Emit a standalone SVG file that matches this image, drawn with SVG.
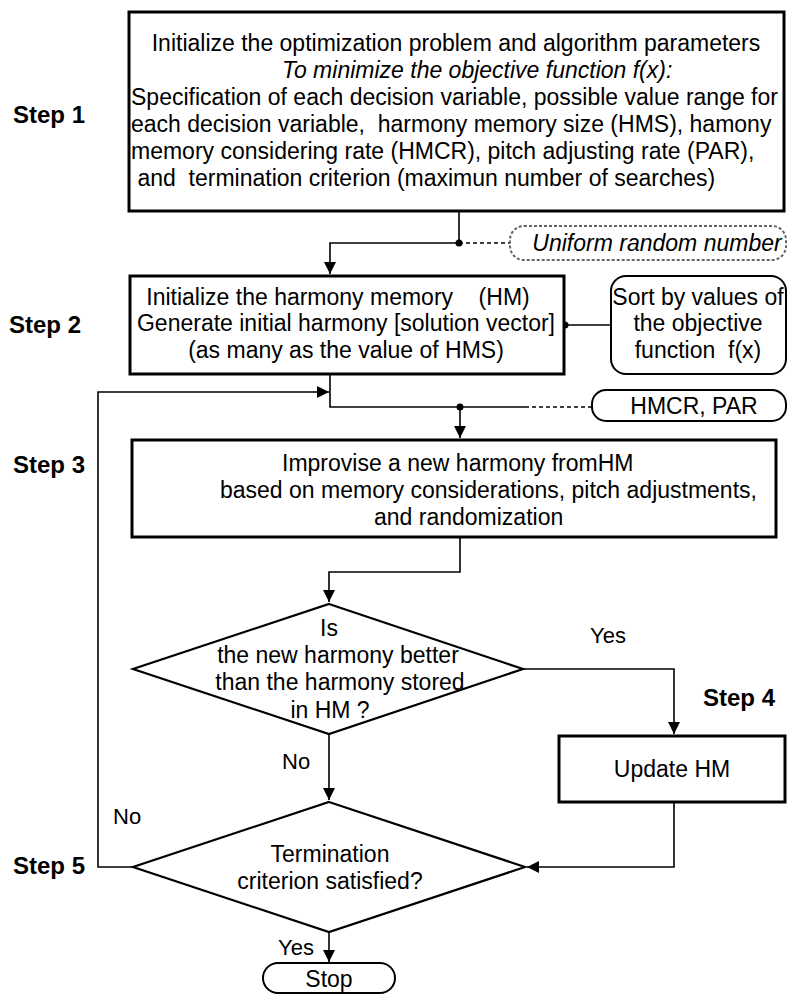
<svg xmlns="http://www.w3.org/2000/svg" width="788" height="997" viewBox="0 0 788 997">
<style>
.t{font-family:"Liberation Sans",Arial,sans-serif;font-size:23px;fill:#000}
.c{text-anchor:middle}
.i{font-style:italic}
.s{font-weight:bold;font-size:24px}
.l{font-size:22px}
.box{fill:#fff;stroke:#000;stroke-width:3}
.rnd{fill:#fff;stroke:#000;stroke-width:2}
.dsh{fill:#fff;stroke:#666;stroke-width:2;stroke-dasharray:3 2}
.dia{fill:#fff;stroke:#000;stroke-width:2.2}
.ln{fill:none;stroke:#000;stroke-width:1.6}
.dl{fill:none;stroke:#000;stroke-width:1.6;stroke-dasharray:4 3}
</style>
<defs>
<marker id="ar" markerUnits="userSpaceOnUse" markerWidth="12" markerHeight="12" viewBox="0 0 12 12" refX="12" refY="6" orient="auto">
<path d="M0,0 L12,6 L0,12 Z" fill="#000"/>
</marker>
</defs>

<g id="labels">
<text class="t s" x="13" y="123">Step 1</text>
<text class="t s" x="9" y="333">Step 2</text>
<text class="t s" x="13" y="473">Step 3</text>
<text class="t s" x="703" y="706">Step 4</text>
<text class="t s" x="13" y="874">Step 5</text>
</g>

<g id="connectors">
<path class="ln" d="M459,211 V243 H330 V274" marker-end="url(#ar)"/>
<path class="dl" d="M459,243 H510"/>
<circle cx="459" cy="243" r="3.5"/>
<path class="ln" d="M565,325 H611"/>
<circle cx="565" cy="325" r="3.5"/>
<path class="ln" d="M330,374 V407 H460"/>
<path class="ln" d="M460,407 V438" marker-end="url(#ar)"/>
<path class="ln" d="M460,407 H525"/>
<path class="dl" d="M525,407 H592"/>
<circle cx="460" cy="407" r="3.5"/>
<path class="ln" d="M133,867 H98 V392 H329" marker-end="url(#ar)"/>
<path class="ln" d="M460,537 V572 H329 V602" marker-end="url(#ar)"/>
<path class="ln" d="M523,669 H674 V734" marker-end="url(#ar)"/>
<path class="ln" d="M674,802 V867 H527" marker-end="url(#ar)"/>
<path class="ln" d="M329,734 V800" marker-end="url(#ar)"/>
<path class="ln" d="M329,932 V962" marker-end="url(#ar)"/>
<text class="t l" x="590" y="643">Yes</text>
<text class="t l" x="282" y="769">No</text>
<text class="t l" x="113" y="824">No</text>
<text class="t l" x="278" y="955">Yes</text>
</g>

<g id="step1">
<rect class="box" x="129" y="12" width="655" height="199"/>
<text class="t c" x="456" y="51">Initialize the optimization problem and algorithm parameters</text>
<text class="t i" x="282" y="78">To minimize the objective function f(x):</text>
<text class="t" x="131" y="105">Specification of each decision variable, possible value range for</text>
<text class="t" x="131" y="132" xml:space="preserve">each decision variable,  harmony memory size (HMS), hamony</text>
<text class="t" x="131" y="159">memory considering rate (HMCR), pitch adjusting rate (PAR),</text>
<text class="t" x="131" y="186" xml:space="preserve"> and  termination criterion (maximun number of searches)</text>
</g>

<g id="uniform">
<rect class="dsh" x="510" y="226" width="276" height="34" rx="14"/>
<text class="t c i" x="657" y="251">Uniform random number</text>
</g>

<g id="step2">
<rect class="box" x="130" y="276" width="434" height="98"/>
<text class="t c" x="338" y="305" xml:space="preserve">Initialize the harmony memory    (HM)</text>
<text class="t c" x="346" y="331">Generate initial harmony [solution vector]</text>
<text class="t c" x="346" y="358">(as many as the value of HMS)</text>
</g>

<g id="sort">
<rect class="rnd" x="611" y="276" width="175" height="98" rx="15"/>
<text class="t c" x="698" y="305">Sort by values of</text>
<text class="t c" x="698" y="331">the objective</text>
<text class="t c" x="698" y="358" xml:space="preserve">function  f(x)</text>
</g>

<g id="params">
<rect class="rnd" x="592" y="390" width="194" height="31" rx="14"/>
<text class="t c" x="694" y="414">HMCR, PAR</text>
</g>

<g id="step3">
<rect class="box" x="132" y="440" width="644" height="97"/>
<text class="t" x="282" y="471">Improvise a new harmony fromHM</text>
<text class="t" x="220" y="498">based on memory considerations, pitch adjustments,</text>
<text class="t" x="374" y="525">and randomization</text>
</g>

<g id="decision1">
<polygon class="dia" points="329,604 523,669 329,734 133,669"/>
<text class="t c" x="329" y="636">Is</text>
<text class="t c" x="338" y="663">the new harmony better</text>
<text class="t c" x="340" y="690">than the harmony stored</text>
<text class="t c" x="330" y="718">in HM ?</text>
</g>

<g id="step4">
<rect class="box" x="559" y="736" width="226" height="66"/>
<text class="t c" x="672" y="777">Update HM</text>
</g>

<g id="decision2">
<polygon class="dia" points="329,802 525,867 329,932 133,867"/>
<text class="t c" x="330" y="862">Termination</text>
<text class="t c" x="330" y="889">criterion satisfied?</text>
</g>

<g id="stop">
<rect class="rnd" x="263" y="963" width="132" height="30" rx="15"/>
<text class="t c" x="329" y="987">Stop</text>
</g>
</svg>
